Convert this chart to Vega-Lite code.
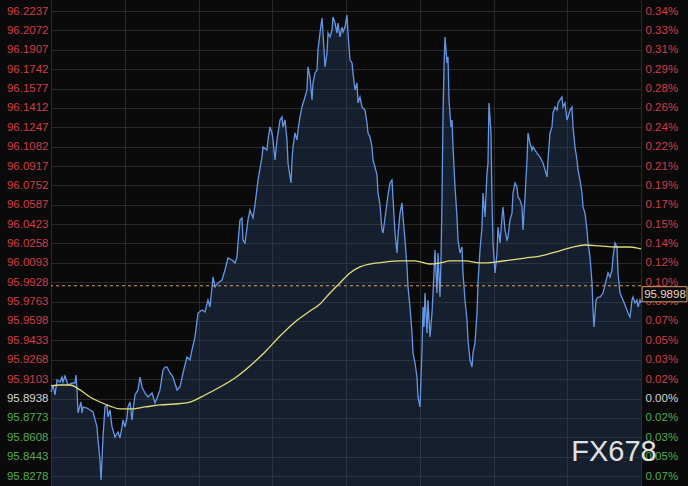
{
  "$schema": "https://vega.github.io/schema/vega-lite/v6.json",
  "width": 590,
  "height": 486,
  "autosize": {"type": "none"},
  "padding": {"left": 51, "right": 47, "top": 0, "bottom": 0},
  "background": "#0a0a0a",
  "config": {
    "view": {"stroke": null},
    "font": "Liberation Sans",
    "axis": {"labelFontSize": 11.5, "labelFont": "Liberation Sans"}
  },
  "datasets": {
    "px": [
      {"t":0,"price":95.8993},{"t":2,"price":95.9053},{"t":4,"price":95.8968},{"t":6,"price":95.9096},{"t":9,"price":95.9079},{"t":11,"price":95.9121},{"t":12,"price":95.9079},{"t":14,"price":95.9130},{"t":17,"price":95.9053},{"t":21,"price":95.9070},{"t":24,"price":95.9070},{"t":25,"price":95.9138},{"t":26,"price":95.9011},{"t":27,"price":95.8815},{"t":30,"price":95.8908},{"t":31,"price":95.8815},{"t":32,"price":95.8866},{"t":36,"price":95.8857},{"t":39,"price":95.8840},{"t":42,"price":95.8823},{"t":46,"price":95.8696},{"t":47,"price":95.8585},{"t":49,"price":95.8415},{"t":50,"price":95.8244},{"t":51,"price":95.8415},{"t":52,"price":95.8610},{"t":54,"price":95.8866},{"t":56,"price":95.8883},{"t":57,"price":95.8781},{"t":59,"price":95.8840},{"t":61,"price":95.8696},{"t":62,"price":95.8670},{"t":64,"price":95.8610},{"t":67,"price":95.8653},{"t":69,"price":95.8602},{"t":71,"price":95.8696},{"t":72,"price":95.8755},{"t":74,"price":95.8696},{"t":76,"price":95.8772},{"t":77,"price":95.8866},{"t":79,"price":95.8908},{"t":81,"price":95.8755},{"t":82,"price":95.8840},{"t":84,"price":95.8968},{"t":87,"price":95.9011},{"t":89,"price":95.9121},{"t":91,"price":95.9036},{"t":94,"price":95.8985},{"t":97,"price":95.8951},{"t":101,"price":95.8985},{"t":104,"price":95.8900},{"t":106,"price":95.8942},{"t":109,"price":95.9011},{"t":112,"price":95.9181},{"t":114,"price":95.9206},{"t":116,"price":95.9206},{"t":119,"price":95.9155},{"t":122,"price":95.9121},{"t":126,"price":95.9011},{"t":129,"price":95.9036},{"t":132,"price":95.9155},{"t":136,"price":95.9292},{"t":139,"price":95.9266},{"t":141,"price":95.9351},{"t":144,"price":95.9462},{"t":147,"price":95.9666},{"t":151,"price":95.9692},{"t":154,"price":95.9675},{"t":157,"price":95.9777},{"t":159,"price":95.9717},{"t":162,"price":95.9973},{"t":164,"price":95.9888},{"t":167,"price":95.9922},{"t":171,"price":95.9947},{"t":174,"price":96.0032},{"t":177,"price":96.0134},{"t":181,"price":96.0117},{"t":184,"price":96.0092},{"t":186,"price":96.0143},{"t":187,"price":96.0262},{"t":189,"price":96.0458},{"t":191,"price":96.0475},{"t":192,"price":96.0288},{"t":194,"price":96.0262},{"t":197,"price":96.0458},{"t":199,"price":96.0543},{"t":202,"price":96.0475},{"t":204,"price":96.0586},{"t":207,"price":96.0798},{"t":211,"price":96.0994},{"t":212,"price":96.1079},{"t":216,"price":96.1054},{"t":217,"price":96.1139},{"t":219,"price":96.1250},{"t":221,"price":96.1199},{"t":222,"price":96.1139},{"t":224,"price":96.0969},{"t":226,"price":96.1139},{"t":229,"price":96.1309},{"t":231,"price":96.1335},{"t":232,"price":96.1250},{"t":234,"price":96.1309},{"t":236,"price":96.1139},{"t":237,"price":96.0943},{"t":240,"price":96.0773},{"t":241,"price":96.0969},{"t":242,"price":96.1079},{"t":244,"price":96.1199},{"t":246,"price":96.1139},{"t":247,"price":96.1224},{"t":249,"price":96.1335},{"t":251,"price":96.1420},{"t":254,"price":96.1505},{"t":256,"price":96.1565},{"t":257,"price":96.1761},{"t":259,"price":96.1675},{"t":261,"price":96.1480},{"t":262,"price":96.1624},{"t":264,"price":96.1710},{"t":266,"price":96.1735},{"t":267,"price":96.1905},{"t":269,"price":96.2050},{"t":271,"price":96.2178},{"t":272,"price":96.2050},{"t":274,"price":96.1761},{"t":276,"price":96.1880},{"t":277,"price":96.2050},{"t":279,"price":96.2016},{"t":281,"price":96.2076},{"t":282,"price":96.2186},{"t":284,"price":96.2135},{"t":286,"price":96.2050},{"t":287,"price":96.2135},{"t":289,"price":96.2016},{"t":291,"price":96.2101},{"t":292,"price":96.2059},{"t":294,"price":96.2101},{"t":296,"price":96.2203},{"t":297,"price":96.2050},{"t":299,"price":96.1820},{"t":301,"price":96.1795},{"t":302,"price":96.1710},{"t":304,"price":96.1565},{"t":306,"price":96.1624},{"t":307,"price":96.1454},{"t":309,"price":96.1505},{"t":311,"price":96.1420},{"t":314,"price":96.1394},{"t":316,"price":96.1284},{"t":317,"price":96.1199},{"t":319,"price":96.1165},{"t":321,"price":96.1079},{"t":322,"price":96.0969},{"t":324,"price":96.0909},{"t":326,"price":96.0841},{"t":327,"price":96.0688},{"t":329,"price":96.0586},{"t":331,"price":96.0373},{"t":332,"price":96.0347},{"t":334,"price":96.0475},{"t":337,"price":96.0671},{"t":339,"price":96.0773},{"t":341,"price":96.0798},{"t":342,"price":96.0645},{"t":344,"price":96.0347},{"t":346,"price":96.0177},{"t":347,"price":96.0330},{"t":349,"price":96.0517},{"t":351,"price":96.0603},{"t":352,"price":96.0483},{"t":354,"price":96.0288},{"t":356,"price":96.0058},{"t":357,"price":95.9888},{"t":359,"price":95.9717},{"t":361,"price":95.9496},{"t":362,"price":95.9326},{"t":364,"price":95.9240},{"t":366,"price":95.9121},{"t":367,"price":95.8951},{"t":369,"price":95.8866},{"t":370,"price":95.9121},{"t":371,"price":95.9351},{"t":372,"price":95.9717},{"t":373,"price":95.9547},{"t":374,"price":95.9836},{"t":376,"price":95.9496},{"t":377,"price":95.9777},{"t":379,"price":95.9462},{"t":381,"price":95.9666},{"t":382,"price":95.9836},{"t":384,"price":96.0203},{"t":386,"price":95.9836},{"t":387,"price":96.0177},{"t":389,"price":95.9802},{"t":390,"price":96.0117},{"t":391,"price":96.0628},{"t":392,"price":96.1335},{"t":393,"price":96.1761},{"t":394,"price":96.2016},{"t":396,"price":96.1795},{"t":397,"price":96.1846},{"t":398,"price":96.1480},{"t":400,"price":96.1250},{"t":401,"price":96.1309},{"t":402,"price":96.1079},{"t":404,"price":96.0739},{"t":406,"price":96.0483},{"t":407,"price":96.0288},{"t":409,"price":96.0177},{"t":411,"price":96.0228},{"t":412,"price":96.0007},{"t":414,"price":95.9777},{"t":416,"price":95.9607},{"t":417,"price":95.9436},{"t":419,"price":95.9266},{"t":421,"price":95.9206},{"t":422,"price":95.9326},{"t":424,"price":95.9411},{"t":426,"price":95.9666},{"t":427,"price":95.9922},{"t":429,"price":96.0203},{"t":431,"price":96.0398},{"t":432,"price":96.0688},{"t":434,"price":96.0483},{"t":436,"price":96.0858},{"t":437,"price":96.0943},{"t":438,"price":96.1454},{"t":440,"price":96.1199},{"t":441,"price":96.0628},{"t":442,"price":96.0262},{"t":444,"price":96.0007},{"t":446,"price":96.0177},{"t":447,"price":96.0398},{"t":449,"price":96.0262},{"t":451,"price":96.0483},{"t":452,"price":96.0569},{"t":454,"price":96.0373},{"t":456,"price":96.0288},{"t":457,"price":96.0313},{"t":459,"price":96.0458},{"t":461,"price":96.0517},{"t":462,"price":96.0688},{"t":464,"price":96.0773},{"t":466,"price":96.0739},{"t":467,"price":96.0654},{"t":469,"price":96.0628},{"t":471,"price":96.0569},{"t":472,"price":96.0373},{"t":474,"price":96.0654},{"t":476,"price":96.0969},{"t":477,"price":96.1199},{"t":479,"price":96.1114},{"t":481,"price":96.1054},{"t":482,"price":96.1079},{"t":486,"price":96.1028},{"t":489,"price":96.0994},{"t":492,"price":96.0943},{"t":496,"price":96.0824},{"t":497,"price":96.0969},{"t":499,"price":96.1199},{"t":501,"price":96.1250},{"t":502,"price":96.1369},{"t":504,"price":96.1420},{"t":506,"price":96.1394},{"t":507,"price":96.1454},{"t":509,"price":96.1480},{"t":511,"price":96.1505},{"t":512,"price":96.1420},{"t":514,"price":96.1454},{"t":516,"price":96.1309},{"t":517,"price":96.1335},{"t":519,"price":96.1394},{"t":521,"price":96.1420},{"t":522,"price":96.1250},{"t":524,"price":96.1079},{"t":526,"price":96.0969},{"t":527,"price":96.0884},{"t":529,"price":96.0798},{"t":531,"price":96.0688},{"t":532,"price":96.0569},{"t":534,"price":96.0517},{"t":536,"price":96.0373},{"t":537,"price":96.0262},{"t":539,"price":96.0143},{"t":541,"price":95.9922},{"t":542,"price":95.9692},{"t":543,"price":95.9547},{"t":545,"price":95.9777},{"t":547,"price":95.9802},{"t":549,"price":95.9802},{"t":552,"price":95.9836},{"t":556,"price":95.9973},{"t":557,"price":96.0007},{"t":559,"price":95.9973},{"t":561,"price":96.0032},{"t":562,"price":96.0143},{"t":564,"price":96.0262},{"t":566,"price":96.0228},{"t":567,"price":96.0007},{"t":569,"price":95.9836},{"t":572,"price":95.9777},{"t":576,"price":95.9692},{"t":577,"price":95.9666},{"t":579,"price":95.9632},{"t":581,"price":95.9777},{"t":582,"price":95.9802},{"t":584,"price":95.9751},{"t":586,"price":95.9777},{"t":587,"price":95.9717},{"t":589,"price":95.9777},{"t":590,"price":95.9751}
    ],
    "ma": [
      {"t":0,"ma":95.9045},{"t":9,"ma":95.9053},{"t":19,"ma":95.9053},{"t":29,"ma":95.9011},{"t":39,"ma":95.8951},{"t":49,"ma":95.8908},{"t":59,"ma":95.8874},{"t":69,"ma":95.8849},{"t":79,"ma":95.8849},{"t":94,"ma":95.8866},{"t":109,"ma":95.8883},{"t":124,"ma":95.8891},{"t":139,"ma":95.8908},{"t":154,"ma":95.8968},{"t":169,"ma":95.9036},{"t":184,"ma":95.9113},{"t":199,"ma":95.9215},{"t":214,"ma":95.9334},{"t":229,"ma":95.9470},{"t":244,"ma":95.9590},{"t":259,"ma":95.9683},{"t":269,"ma":95.9743},{"t":279,"ma":95.9836},{"t":289,"ma":95.9922},{"t":299,"ma":96.0007},{"t":309,"ma":96.0058},{"t":319,"ma":96.0083},{"t":334,"ma":96.0100},{"t":349,"ma":96.0109},{"t":364,"ma":96.0109},{"t":379,"ma":96.0083},{"t":389,"ma":96.0092},{"t":399,"ma":96.0109},{"t":414,"ma":96.0109},{"t":429,"ma":96.0092},{"t":444,"ma":96.0100},{"t":459,"ma":96.0117},{"t":474,"ma":96.0134},{"t":489,"ma":96.0151},{"t":504,"ma":96.0185},{"t":519,"ma":96.0220},{"t":534,"ma":96.0245},{"t":549,"ma":96.0237},{"t":564,"ma":96.0228},{"t":579,"ma":96.0228},{"t":590,"ma":96.0211}
    ],
    "ref": [{"price": 95.9898}],
    "wm": [{"label": "FX678"}]
  },
  "layer": [
    {
      "data": {"name": "px"},
      "mark": {"type": "area", "color": "#2c4470", "fillOpacity": 0.36},
      "encoding": {
        "x": {"field": "t", "type": "quantitative",
          "scale": {"domain": [0, 590], "nice": false, "zero": false},
          "axis": {"values": [0, 73.75, 147.5, 221.25, 295, 368.75, 442.5, 516.25, 590], "labels": false, "ticks": false, "domain": false, "grid": true, "gridColor": "#2a2a2a", "gridWidth": 1, "title": null}},
        "y": {"field": "price", "type": "quantitative",
          "scale": {"domain": [95.8193, 96.2331], "nice": false, "zero": false},
          "axis": {"orient": "left", "title": null,
            "values": [96.2237, 96.2072, 96.1907, 96.1742, 96.1577, 96.1412, 96.1247, 96.1082, 96.0917, 96.0752, 96.0587, 96.0423, 96.0258, 96.0093, 95.9928, 95.9763, 95.9598, 95.9433, 95.9268, 95.9103, 95.8938, 95.8773, 95.8608, 95.8443, 95.8278],
            "format": ".4f", "grid": true, "gridColor": "#2a2a2a", "gridWidth": 1,
            "domain": false, "ticks": false, "labelPadding": 3, "labelFontSize": 11.5, "labelFont": "Liberation Sans", "labelOverlap": false, "labelOpacity": 1,
            "labelColor": {"condition": [{"test": "datum.value > 95.894", "value": "#d23c48"}, {"test": "datum.value < 95.8936", "value": "#55a955"}], "value": "#d6d6d6"}}},
        "y2": {"datum": 95.8193}
      }
    },
    {
      "data": {"name": "px"},
      "mark": {"type": "line", "color": "#6497e6", "strokeWidth": 1.3},
      "encoding": {
        "x": {"field": "t", "type": "quantitative"},
        "y": {"field": "price", "type": "quantitative", "scale": {"domain": [95.8193, 96.2331], "nice": false, "zero": false}, "axis": null}
      }
    },
    {
      "data": {"name": "ma"},
      "mark": {"type": "line", "color": "#e0de7c", "strokeWidth": 1.3, "interpolate": "monotone"},
      "encoding": {
        "x": {"field": "t", "type": "quantitative"},
        "y": {"field": "ma", "type": "quantitative", "scale": {"domain": [95.8193, 96.2331], "nice": false, "zero": false}, "axis": null}
      }
    },
    {
      "data": {"name": "ref"},
      "mark": {"type": "rule", "color": "#d99e68", "strokeWidth": 1, "strokeDash": [3, 3]},
      "encoding": {
        "y": {"field": "price", "type": "quantitative",
          "scale": {"domain": [95.8193, 96.2331], "nice": false, "zero": false},
          "axis": {"orient": "right", "title": null,
            "values": [96.2237, 96.2072, 96.1907, 96.1742, 96.1577, 96.1412, 96.1247, 96.1082, 96.0917, 96.0752, 96.0587, 96.0423, 96.0258, 96.0093, 95.9928, 95.9763, 95.9598, 95.9433, 95.9268, 95.9103, 95.8938, 95.8773, 95.8608, 95.8443, 95.8278],
            "labelExpr": "format(abs(datum.value - 95.8938) / 95.8938 * 100, '.2f') + '%'",
            "grid": false, "domain": false, "ticks": false, "labelPadding": 4, "labelFontSize": 11.5, "labelFont": "Liberation Sans", "labelOverlap": false, "labelOpacity": 1,
            "labelColor": {"condition": [{"test": "datum.value > 95.894", "value": "#d23c48"}, {"test": "datum.value < 95.8936", "value": "#55a955"}], "value": "#d6d6d6"}}}
      }
    },
    {
      "data": {"name": "ref"},
      "mark": {"type": "point", "shape": "M 0.05 0.04 L 2 0.04 L 2 0.7 L 0.05 0.7 Z", "filled": true, "fill": "#0a0a0a", "stroke": "#d99e68", "strokeWidth": 1, "opacity": 1, "size": 2116},
      "encoding": {
        "x": {"datum": 590, "type": "quantitative"},
        "y": {"field": "price", "type": "quantitative", "scale": {"domain": [95.8193, 96.2331], "nice": false, "zero": false}, "axis": null}
      }
    },
    {
      "data": {"name": "ref"},
      "mark": {"type": "text", "color": "#e6dccb", "font": "Liberation Sans", "fontSize": 11.5, "align": "center", "baseline": "middle", "dx": 24, "dy": 9},
      "encoding": {
        "x": {"datum": 590, "type": "quantitative"},
        "y": {"field": "price", "type": "quantitative", "scale": {"domain": [95.8193, 96.2331], "nice": false, "zero": false}, "axis": null},
        "text": {"field": "price", "type": "quantitative", "format": ".4f"}
      }
    },
    {
      "data": {"name": "wm"},
      "mark": {"type": "text", "color": "#f2f2f2", "opacity": 0.92, "font": "Liberation Sans", "fontSize": 29, "align": "center", "baseline": "middle"},
      "encoding": {
        "x": {"datum": 563, "type": "quantitative"},
        "y": {"datum": 95.8483, "type": "quantitative", "scale": {"domain": [95.8193, 96.2331], "nice": false, "zero": false}, "axis": null},
        "text": {"field": "label", "type": "nominal"}
      }
    }
  ],
  "resolve": {"scale": {"y": "independent"}}
}
